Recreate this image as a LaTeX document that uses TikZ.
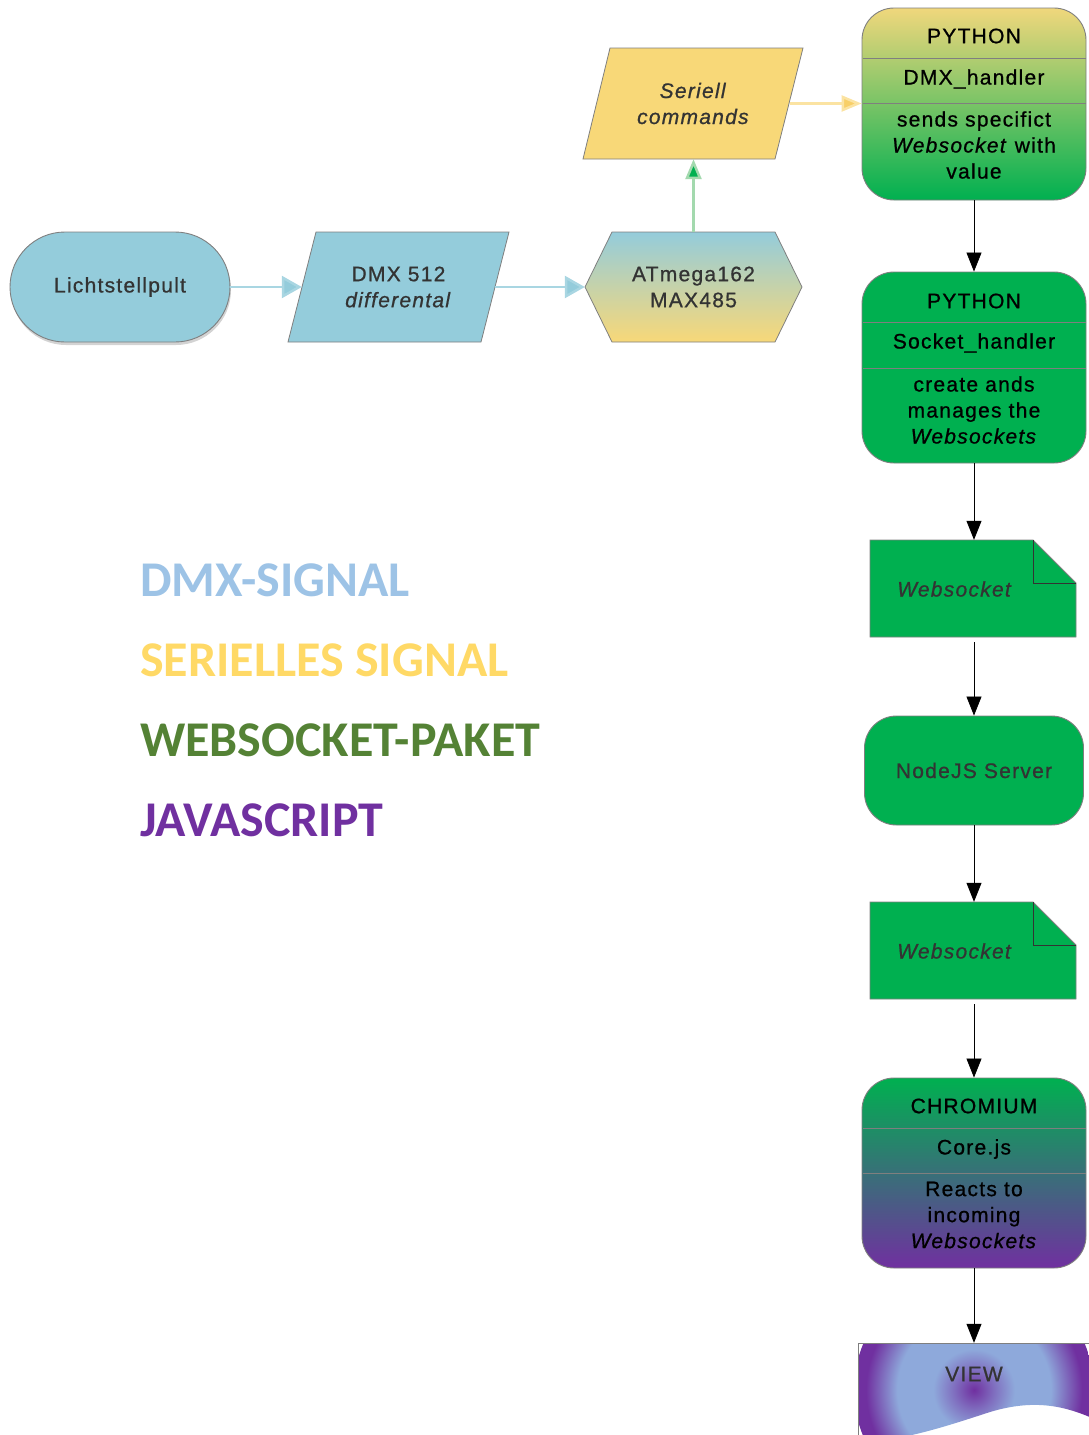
\documentclass[tikz,border=0pt]{standalone}
\usepackage{fontspec}
\setmainfont{Liberation Sans}
\newfontfamily\diafont[LetterSpace=6,FakeBold=0.8]{Liberation Sans}
\newfontfamily\legfont{Carlito}
\usetikzlibrary{arrows.meta,calc,shadows}
\definecolor{dmxblue}{HTML}{94CCDB}
\definecolor{dmxline}{HTML}{A9D6E2}
\definecolor{serieyellow}{HTML}{F8D878}
\definecolor{serline}{HTML}{FBE3A2}
\definecolor{serhead}{HTML}{F8CF68}
\definecolor{pyyellow}{HTML}{F0D77C}
\definecolor{pymid}{HTML}{A2CF68}
\definecolor{wsgreen}{HTML}{00B050}
\definecolor{grline}{HTML}{A3D9AE}
\definecolor{jspurple}{HTML}{7030A0}
\definecolor{txtgray}{HTML}{333333}
\definecolor{bordergray}{HTML}{7F7F7F}
\definecolor{legblue}{HTML}{9DC3E6}
\definecolor{legyellow}{HTML}{FFD966}
\definecolor{leggreen}{HTML}{548235}
\definecolor{viewblue}{HTML}{8EA9DB}
\definecolor{viewmix}{HTML}{7F6CBE}
\pgfdeclareradialshading{viewshade}{\pgfpoint{0bp}{0bp}}{color(0bp)=(jspurple); color(4bp)=(viewmix); color(8.5bp)=(viewblue); color(16bp)=(viewblue); color(22.5bp)=(jspurple); color(50bp)=(jspurple)}
\begin{document}
\begin{tikzpicture}[x=1pt,y=-1pt,
  dtext/.style={font=\diafont\fontsize{21}{26}\selectfont, text=txtgray, align=center},
  btext/.style={font=\diafont\fontsize{21}{26}\selectfont, text=black, align=center},
  anchorbox/.style={draw=none, inner sep=0pt},
  secbox/.style={draw=bordergray, line width=0.9pt, rounded corners=32pt, minimum width=224pt, inner sep=0pt},
  divider/.style={draw=bordergray, line width=0.9pt},
  blk/.style={draw=black, line width=0.8pt, -{Triangle[length=19pt,width=15pt]}},
  bluearrow/.style={draw=dmxline, line width=2.5pt, -{Triangle[length=20pt,width=22pt,fill=dmxblue]}},
  yelarrow/.style={draw=serline, line width=2.5pt, -{Triangle[length=20pt,width=16pt,fill=serhead]}},
  grnarrow/.style={draw=grline, line width=2.5pt, -{Triangle[length=20pt,width=16pt,fill=wsgreen]}},
  leg/.style={font=\legfont\bfseries\fontsize{50}{55}\selectfont, anchor=base west, inner sep=0pt},
  docshape/.style={fill=wsgreen, draw=bordergray, line width=0.8pt}
]
\useasboundingbox (0,0) rectangle (1088,1435);

% ---------- left chain ----------
\node[draw=bordergray, line width=0.9pt, fill=dmxblue, rounded corners=55pt,
      minimum width=220pt, minimum height=110pt, inner sep=0pt,
      drop shadow={opacity=0.35, shadow xshift=1pt, shadow yshift=-3pt},
      dtext] (licht) at (120,287) {Lichtstellpult};

\filldraw[fill=dmxblue, draw=bordergray, line width=0.8pt]
  (316,232) -- (509,232) -- (481,342) -- (288,342) -- cycle;
\node[anchorbox, minimum width=193pt, minimum height=110pt, dtext] (dmx) at (398.5,287)
  {DMX 512\\\textit{differental}};

\shade[top color=dmxblue, bottom color=serieyellow, draw=bordergray, line width=0.8pt]
  (585,287) -- (612,232) -- (775,232) -- (802,287) -- (775,342) -- (612,342) -- cycle;
\node[anchorbox, minimum width=217pt, minimum height=110pt, dtext] (atm) at (693.5,287)
  {ATmega162\\MAX485};

\filldraw[fill=serieyellow, draw=bordergray, line width=0.8pt]
  (610,48) -- (803,48) -- (775,159) -- (583,159) -- cycle;
\node[anchorbox, minimum width=193pt, minimum height=111pt, dtext] (ser) at (693.5,103.5)
  {\textit{Seriell}\\\textit{commands}};

% ---------- right column ----------
\node[secbox, minimum height=192pt, top color=pyyellow, middle color=pymid, bottom color=wsgreen] (py1) at (974,104) {};
\draw[divider] (862.5,58) -- (1085.5,58);
\draw[divider] (862.5,103) -- (1085.5,103);
\node[btext] (py1a) at (974,36) {PYTHON};
\node[btext] (py1b) at (974,79) {DMX\_handler};
\node[btext] (py1c) at (974,145) {sends specifict\\\textit{Websocket} with\\value};

\node[secbox, minimum height=191pt, fill=wsgreen] (py2) at (974,367.5) {};
\draw[divider] (862.5,322) -- (1085.5,322);
\draw[divider] (862.5,368) -- (1085.5,368);
\node[btext] (py2a) at (974,301) {PYTHON};
\node[btext] (py2b) at (974,343) {Socket\_handler};
\node[btext] (py2c) at (974,410) {create ands\\manages the\\\textit{Websockets}};

% websocket document 1
\node[anchorbox, minimum width=206pt, minimum height=97pt] (ws1) at (974,588.5) {};
\path[docshape] (870,540) -- (1033,540) -- (1076,583) -- (1076,637) -- (870,637) -- cycle;
\draw[black!80, line width=0.8pt] (1033,540) -- (1033,583) -- (1076,583);
\node[dtext] (ws1t) at (955,589) {\textit{Websocket}};

\node[draw=bordergray, line width=0.9pt, fill=wsgreen, rounded corners=32pt,
      minimum width=219pt, minimum height=109pt, inner sep=0pt, dtext] (node) at (974,770.5) {NodeJS Server};

% websocket document 2
\node[anchorbox, minimum width=206pt, minimum height=97pt] (ws2) at (974,950.5) {};
\path[docshape] (870,902) -- (1033,902) -- (1076,945) -- (1076,999) -- (870,999) -- cycle;
\draw[black!80, line width=0.8pt] (1033,902) -- (1033,945) -- (1076,945);
\node[dtext] (ws2t) at (955,951) {\textit{Websocket}};

\node[secbox, minimum height=190pt, top color=wsgreen, bottom color=jspurple] (chrom) at (974,1173) {};
\draw[divider] (862.5,1128) -- (1085.5,1128);
\draw[divider] (862.5,1173) -- (1085.5,1173);
\node[btext] (chra) at (974,1106) {CHROMIUM};
\node[btext] (chrb) at (974,1149) {Core.js};
\node[btext] (chrc) at (974,1215) {Reacts to\\incoming\\\textit{Websockets}};

% VIEW
\node[anchorbox, minimum width=230pt, minimum height=92pt] (view) at (974,1389) {};
\begin{scope}
  \clip (858,1343) -- (1092,1343) -- (1092,1418) .. controls (1060,1404) and (1030,1400) .. (990,1412)
        .. controls (950,1425) and (900,1442) .. (858,1442) -- cycle;
  \shade[shading=viewshade] (974,1390) circle (120);
\end{scope}
\draw[bordergray, line width=0.8pt] (858,1442) -- (858,1343) -- (1092,1343);
\node[dtext] (viewt) at (974,1374) {VIEW};

% ---------- connectors ----------
\draw[bluearrow] (licht.east) -- (dmx.west);
\draw[bluearrow] (dmx.east) -- (atm.west);
\draw[grnarrow] (atm.north) -- (ser.south);
\draw[yelarrow] (ser.east) -- (py1.west |- ser.east);
\draw[blk] (py1.south) -- (py2.north);
\draw[blk] (py2.south) -- (ws1.north);
\draw[blk, shorten <=5pt] (ws1.south) -- (node.north);
\draw[blk] (node.south) -- (ws2.north);
\draw[blk, shorten <=5pt] (ws2.south) -- (chrom.north);
\draw[blk] (chrom.south) -- (view.north);

% ---------- legend ----------
\node[leg, text=legblue] (l1) at (140,596) {DMX-SIGNAL};
\node[leg, text=legyellow] (l2) at (140,676) {SERIELLES SIGNAL};
\node[leg, text=leggreen] (l3) at (140,756) {WEBSOCKET-PAKET};
\node[leg, text=jspurple] (l4) at (140,836) {JAVASCRIPT};
\end{tikzpicture}
\end{document}
